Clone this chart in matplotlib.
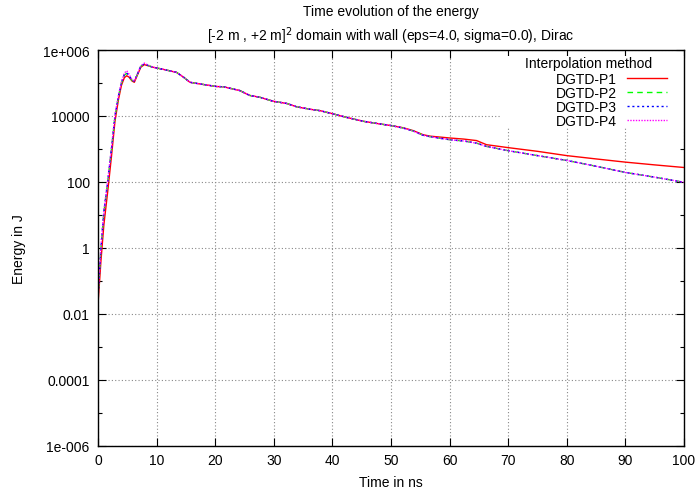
import matplotlib
matplotlib.use("Agg")
import matplotlib.pyplot as plt
from matplotlib.ticker import FixedLocator, NullFormatter
from matplotlib.patches import Rectangle

plt.rcParams['font.family'] = ['Liberation Sans', 'DejaVu Sans']

# time samples (ns)
t = [0, 0.5, 1.0, 1.65, 2.3, 2.9, 3.5, 4.0, 4.5, 4.9, 5.3, 5.8, 6.2, 6.7, 7.3, 7.9,
     8.9, 9.4, 11.1, 13.4, 14.6, 15.7, 18, 20.3, 21.4, 24.2, 25.9, 27.6, 29.9, 32.2,
     33.9, 36.2, 37.9, 40.2, 42.4, 45.3, 48.1, 50.1, 52.1, 53.8, 55.5, 56.7, 60.1,
     62.4, 64.6, 66.3, 70, 75, 80, 85, 90, 95, 100]

p1 = [0.02, 0.4, 5, 50, 600, 7000, 3.2e4, 8.5e4, 1.45e5, 1.66e5, 1.5e5, 1.15e5, 1.05e5,
      1.7e5, 3.0e5, 3.6e5, 3.2e5, 3.0e5, 2.6e5, 2.1e5, 1.5e5, 1.05e5, 9.0e4, 7.8e4,
      7.7e4, 5.9e4, 4.2e4, 3.7e4, 2.8e4, 2.4e4, 1.9e4, 1.6e4, 1.45e4, 1.15e4, 9.1e3,
      6.9e3, 5.75e3, 5.1e3, 4.4e3, 3.6e3, 2.7e3, 2.45e3, 2.15e3, 2.0e3, 1.8e3, 1.35e3,
      1.1e3, 850, 630, 500, 400, 330, 275]

p2 = [0.03, 1.0, 12, 100, 1000, 1.0e4, 4.0e4, 1.0e5, 1.75e5, 1.95e5, 1.65e5, 1.2e5, 1.15e5,
      1.8e5, 3.2e5, 3.8e5, 3.2e5, 3.0e5, 2.6e5, 2.1e5, 1.5e5, 1.05e5, 9.0e4, 7.8e4,
      7.7e4, 5.9e4, 4.2e4, 3.7e4, 2.8e4, 2.4e4, 1.9e4, 1.6e4, 1.45e4, 1.15e4, 9.1e3,
      6.9e3, 5.75e3, 5.1e3, 4.3e3, 3.5e3, 2.6e3, 2.35e3, 1.9e3, 1.75e3, 1.5e3, 1.2e3,
      890, 630, 450, 300, 195, 140, 98]

p3 = [0.03, 1.0, 12, 100, 1000, 1.0e4, 4.1e4, 1.02e5, 1.8e5, 2.0e5, 1.7e5, 1.2e5, 1.15e5,
      1.8e5, 3.2e5, 3.85e5, 3.2e5, 3.0e5, 2.6e5, 2.1e5, 1.5e5, 1.05e5, 9.0e4, 7.8e4,
      7.7e4, 5.9e4, 4.2e4, 3.7e4, 2.8e4, 2.4e4, 1.9e4, 1.6e4, 1.45e4, 1.15e4, 9.1e3,
      6.9e3, 5.75e3, 5.1e3, 4.3e3, 3.5e3, 2.6e3, 2.35e3, 1.9e3, 1.75e3, 1.5e3, 1.2e3,
      890, 630, 450, 300, 195, 140, 98]

p4 = [0.03, 1.1, 13, 110, 1100, 1.1e4, 4.3e4, 1.08e5, 2.0e5, 2.35e5, 1.85e5, 1.25e5, 1.15e5,
      1.85e5, 3.3e5, 4.0e5, 3.25e5, 3.0e5, 2.6e5, 2.1e5, 1.5e5, 1.05e5, 9.0e4, 7.8e4,
      7.7e4, 5.9e4, 4.2e4, 3.7e4, 2.8e4, 2.4e4, 1.9e4, 1.6e4, 1.45e4, 1.15e4, 9.1e3,
      6.9e3, 5.75e3, 5.1e3, 4.3e3, 3.5e3, 2.6e3, 2.35e3, 1.9e3, 1.75e3, 1.5e3, 1.2e3,
      890, 630, 450, 300, 195, 140, 98]

series_labels = ["DGTD-P1", "DGTD-P2", "DGTD-P3", "DGTD-P4"]
x_ticks = [0, 10, 20, 30, 40, 50, 60, 70, 80, 90, 100]
y_ticks = [1e-6, 1e-4, 1e-2, 1, 1e2, 1e4, 1e6]
y_tick_labels = ["1e-006", "0.0001", "0.01", "1", "100", "10000", "1e+006"]
y_minor = [1e-5, 1e-3, 1e-1, 1e1, 1e3, 1e5]

W, H = 698, 489
L, R, T, B = 98, 684, 51, 447
fig = plt.figure(figsize=(W / 100, H / 100), dpi=100)
ax = fig.add_axes([L / W, (H - B) / H, (R - L) / W, (B - T) / H])

styles = [dict(color="#ff0000", ls="-"),
          dict(color="#00ff00", ls=(0, (4, 3))),
          dict(color="#0000ff", ls=(0, (1.5, 2))),
          dict(color="#ff00ff", ls=(0, (1, 1)))]
for y, lab, st in zip([p1, p2, p3, p4], series_labels, styles):
    ax.plot(t, y, label=lab, lw=1.0, zorder=3, **st)

ax.set_yscale("log")
ax.set_xlim(0, 100)
ax.set_ylim(1e-6, 1e6)
ax.xaxis.set_major_locator(FixedLocator(x_ticks))
ax.set_xticklabels([str(v) for v in x_ticks])
ax.yaxis.set_major_locator(FixedLocator(y_ticks))
ax.set_yticklabels(y_tick_labels)
ax.yaxis.set_minor_locator(FixedLocator(y_minor))
ax.yaxis.set_minor_formatter(NullFormatter())
ax.tick_params(which="both", direction="in", top=True, right=True, labelsize=10,
               colors="black", width=0.8)
ax.tick_params(which="major", length=6, pad=6)
ax.tick_params(axis="x", which="major", pad=5)
ax.tick_params(which="minor", length=3)
ax.grid(True, which="major", color="#888888", ls=(0, (1, 2)), lw=0.8)
ax.set_axisbelow(True)
for s in ax.spines.values():
    s.set_linewidth(1.0)
    s.set_zorder(5)

ax.set_xlabel("Time in ns", fontsize=10, labelpad=6)
ax.set_ylabel("Energy in J", fontsize=10, labelpad=12)
cx = 0.5 * (L + R) / W
fig.text(cx, 1 - 12 / H, "Time evolution of the energy",
         ha="center", va="center", fontsize=10)
fig.text(cx, 1 - 36 / H,
         r"[-2 m , +2 m]$^{2}$ domain with wall (eps=4.0, sigma=0.0), Dirac",
         ha="center", va="center", fontsize=10)

# white key box hiding the grid (gnuplot style opaque key)
def ax_xy(px, py):
    return ((px - L) / (R - L), (B - py) / (B - T))

x0, y0 = ax_xy(500, 129)
x1, y1 = ax_xy(R, 57)
ax.add_patch(Rectangle((x0, y0), x1 - x0, y1 - y0, transform=ax.transAxes,
                       facecolor="white", edgecolor="none", zorder=2))
tx, ty = ax_xy(652, 64)
ax.text(tx, ty, "Interpolation method", transform=ax.transAxes, ha="right",
        va="center", fontsize=10, zorder=4)

ax_, ay_ = ax_xy(667, 73)
leg = ax.legend(loc="upper right", bbox_to_anchor=(ax_, ay_),
                markerfirst=False, fontsize=10, frameon=False,
                handlelength=2.9, labelspacing=0.0, borderpad=0.0,
                handletextpad=0.72, borderaxespad=0.0)
leg.set_zorder(4)

fig.savefig("out.png", dpi=100)
